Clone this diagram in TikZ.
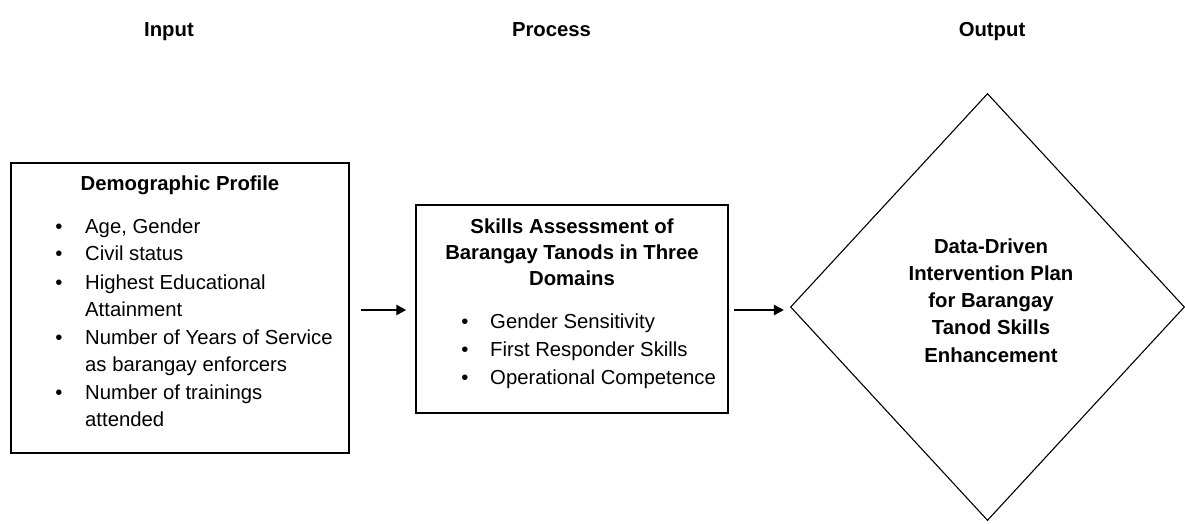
\documentclass[tikz,border=0pt]{standalone}
\usepackage{fontspec}
\setmainfont{Liberation Sans}
\usetikzlibrary{shapes.geometric,arrows.meta}
\begin{document}
\begin{tikzpicture}[x=1pt,y=-1pt,
  txt/.style={anchor=base,inner sep=0pt,font=\fontsize{20.3}{24}\selectfont},
  bold/.style={txt,font=\fontsize{20.3}{24}\selectfont\bfseries},
  itm/.style={txt,anchor=base west},
  bul/.style={txt},
  box/.style={draw,line width=1.4pt,rectangle,inner sep=0pt},
  dia/.style={draw,line width=1.1pt,diamond,inner sep=0pt},
  arr/.style={line width=2.6pt,-{Triangle[length=10pt,width=10pt]}}]
\useasboundingbox (0,0) rectangle (1185,523);
% headings
\node[bold] (hin) at (169,36) {Input};
\node[bold] (hpr) at (551.5,36) {Process};
\node[bold] (hout) at (992,36) {Output};
% shapes
\node[box,minimum width=338pt,minimum height=290pt] (dem) at (180,308) {};
\node[box,minimum width=312pt,minimum height=208pt] (ska) at (572,309) {};
\node[dia,minimum width=394pt,minimum height=427pt] (out) at (987.5,307) {};
% left box text
\node[bold] (demt) at (180,190) {Demographic Profile};
\foreach \y/\n in {233/b1,289/b2,344/b3,399/b4,260.5/b5}{
  \node[bul] (\n) at (59,\y) {\textbullet};}
\node[itm] (d1) at (85,233) {Age, Gender};
\node[itm] (d2) at (85,260.5) {Civil status};
\node[itm] (d3) at (85,289) {Highest Educational};
\node[itm] (d3b) at (85,316.5) {Attainment};
\node[itm] (d4) at (85,344) {Number of Years of Service};
\node[itm] (d4b) at (85,371.5) {as barangay enforcers};
\node[itm] (d5) at (85,399) {Number of trainings};
\node[itm] (d5b) at (85,426.5) {attended};
% middle box text
\node[bold] (st1) at (572,233) {Skills Assessment of};
\node[bold] (st2) at (572,259) {Barangay Tanods in Three};
\node[bold] (st3) at (572,285) {Domains};
\foreach \y/\n in {328/c1,356/c2,384/c3}{
  \node[bul] (\n) at (465,\y) {\textbullet};}
\node[itm] (s1) at (490,328) {Gender Sensitivity};
\node[itm] (s2) at (490,356) {First Responder Skills};
\node[itm] (s3) at (490,384) {Operational Competence};
% diamond text
\node[bold] (o1) at (991,253) {Data-Driven};
\node[bold] (o2) at (991,280) {Intervention Plan};
\node[bold] (o3) at (991,307) {for Barangay};
\node[bold] (o4) at (991,334.5) {Tanod Skills};
\node[bold] (o5) at (991,362) {Enhancement};
% connectors
\draw[arr] ([xshift=11pt,yshift=-2pt]dem.east) -- ([xshift=-9pt,yshift=-1pt]ska.west);
\draw[arr] ([xshift=5pt,yshift=-1pt]ska.east) -- ([xshift=-6pt,yshift=-3pt]out.west);
\end{tikzpicture}
\end{document}
